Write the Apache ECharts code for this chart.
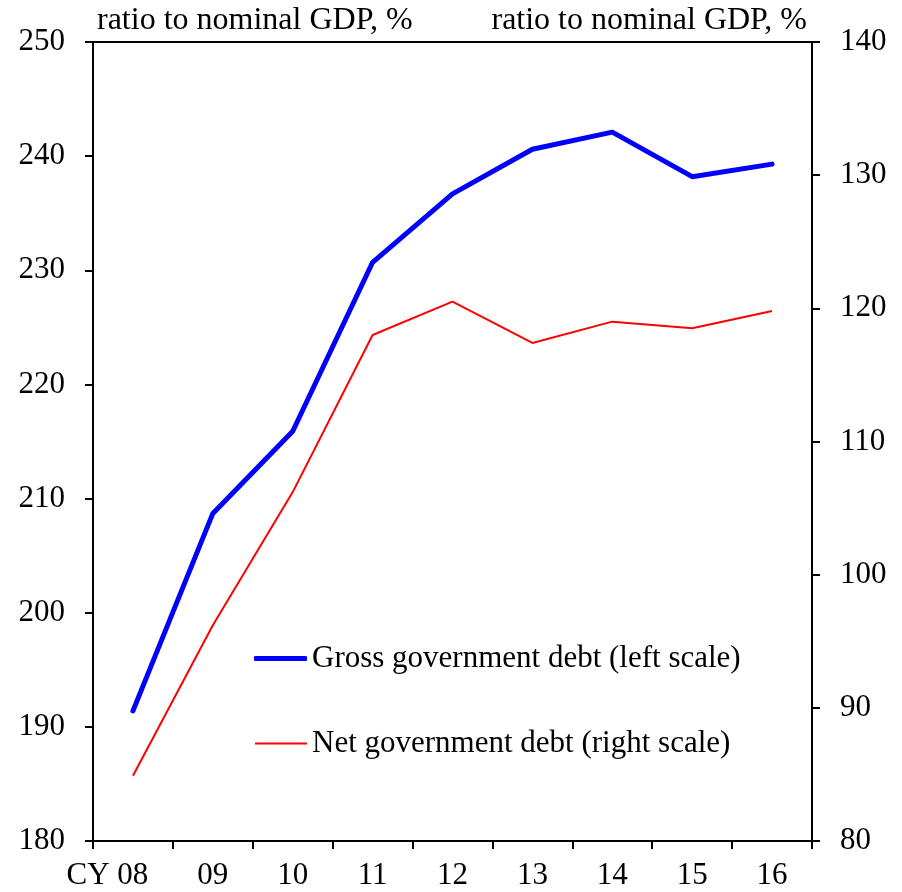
<!DOCTYPE html>
<html>
<head>
<meta charset="utf-8">
<script src="https://cdn.jsdelivr.net/npm/echarts@6/dist/echarts.min.js"></script>
<style>html,body{margin:0;padding:0;background:#fff;}#c{width:902px;height:892px;}</style>
</head>
<body>
<div id="c"></div>
<script>
const categories = ['CY 08','09','10','11','12','13','14','15','16'];
const grossDebt = [191.4, 208.7, 215.9, 230.7, 236.7, 240.6, 242.1, 238.2, 239.3];
const netDebt = [84.9, 96.2, 106.2, 118.0, 120.5, 117.4, 119.0, 118.5, 119.8];
const grossName = 'Gross government debt (left scale)';
const netName = 'Net government debt (right scale)';
const axisTitle = 'ratio to nominal GDP, %';

const FONT = 'Liberation Serif, Times New Roman, serif';
const FS = 31;
const black = '#000';
const chart = echarts.init(document.getElementById('c'), null, {renderer: 'canvas'});
const lineAxis = {show: true, onZero: false, lineStyle: {color: black, width: 2}};
const tick = {show: true, inside: false, length: 8, lineStyle: {color: black, width: 2}};
const lbl = {color: black, fontFamily: FONT, fontSize: FS, margin: 28};

chart.setOption({
  animation: false,
  backgroundColor: '#fff',
  grid: {left: 93, right: 90, top: 42, bottom: 51, show: true, borderColor: black, borderWidth: 2, backgroundColor: 'transparent'},
  legend: [
    {data: [{name: grossName, icon: 'roundRect'}], left: 254, top: 643, padding: 0, itemWidth: 53, itemHeight: 5, itemGap: 0,
     textStyle: {color: black, fontFamily: FONT, fontSize: FS, lineHeight: 30}, selectedMode: false},
    {data: [{name: netName, icon: 'rect'}], left: 255, top: 728, padding: 0, itemWidth: 52, itemHeight: 2, itemGap: 0,
     textStyle: {color: black, fontFamily: FONT, fontSize: FS, lineHeight: 30}, selectedMode: false}
  ],
  xAxis: {
    type: 'category', data: categories, boundaryGap: true,
    axisLine: lineAxis, axisTick: tick,
    axisLabel: Object.assign({}, lbl, {
      margin: 19, interval: 0,
      formatter: function (v, i) { return i === 0 ? '{t|' + v + '}{p|}' : v; },
      rich: {t: {color: black, fontFamily: FONT, fontSize: FS}, p: {width: 51}}
    }),
    splitLine: {show: false}
  },
  yAxis: [
    {type: 'value', min: 180, max: 250, interval: 10, position: 'left',
     name: axisTitle, nameLocation: 'end', nameGap: 5,
     nameTextStyle: {color: black, fontFamily: FONT, fontSize: 32, align: 'left', padding: [0, 0, 0, 4]},
     axisLine: lineAxis, axisTick: tick, axisLabel: lbl, splitLine: {show: false}},
    {type: 'value', min: 80, max: 140, interval: 10, position: 'right',
     name: axisTitle, nameLocation: 'end', nameGap: 5,
     nameTextStyle: {color: black, fontFamily: FONT, fontSize: 32, align: 'right', padding: [0, 5, 0, 0]},
     axisLine: lineAxis, axisTick: tick, axisLabel: lbl, splitLine: {show: false}}
  ],
  series: [
    {name: grossName, type: 'line', yAxisIndex: 0, data: grossDebt, symbol: 'none',
     lineStyle: {color: '#0000ff', width: 5, cap: 'round', join: 'round'}, itemStyle: {color: '#0000ff'}},
    {name: netName, type: 'line', yAxisIndex: 1, data: netDebt, symbol: 'none',
     lineStyle: {color: '#ff0000', width: 2}, itemStyle: {color: '#ff0000'}}
  ]
});
</script>
</body>
</html>
